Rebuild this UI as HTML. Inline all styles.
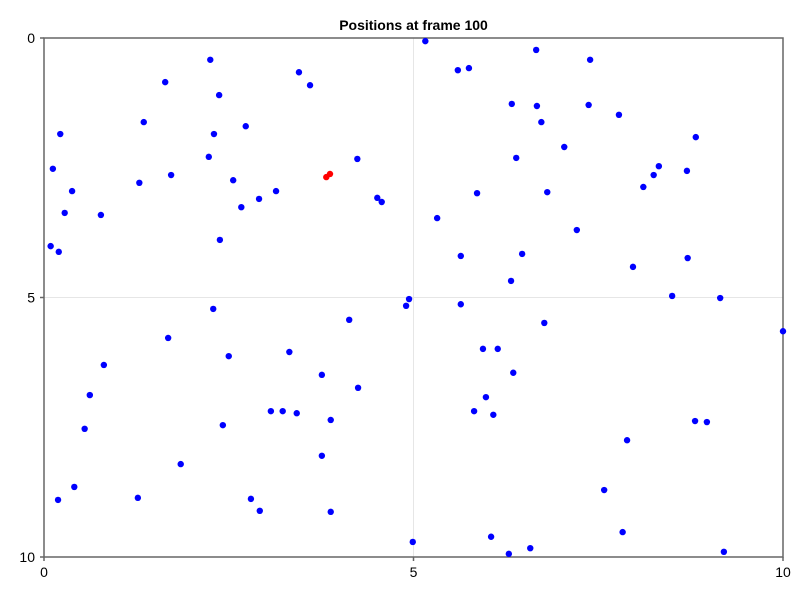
<!DOCTYPE html>
<html><head><meta charset="utf-8"><style>
body{margin:0;background:#fff;}
svg text{font-family:"Liberation Sans",sans-serif;}
</style></head><body>
<svg id="chart" width="800" height="600" xmlns="http://www.w3.org/2000/svg">
<rect width="800" height="600" fill="#fff"/>
<text x="413.5" y="30" text-anchor="middle" font-size="14" font-weight="bold" fill="#000">Positions at frame 100</text>
<g id="grid"></g>
<g id="axes"></g>
<g id="points"></g>
</svg>
<script>
const xTicks=[0,5,10];
const yTicks=[0,5,10];
const blueX=[5.16,6.66,2.25,7.39,5.60,5.75,3.45,1.64,3.60,2.37,6.33,6.67,7.37,7.78,1.35,2.73,6.73,0.22,2.30,8.82,7.04,2.23,4.24,6.39,8.32,0.12,1.72,8.25,8.70,2.56,1.29,8.11,0.38,3.14,5.86,6.81,2.91,4.51,4.57,2.67,0.28,0.77,5.32,7.21,2.38,0.09,0.20,5.64,6.47,8.71,7.97,6.32,8.50,9.15,4.94,4.90,5.64,2.29,4.13,6.77,10.0,1.68,5.94,6.14,3.32,2.50,0.81,6.35,3.76,4.25,0.62,5.98,3.07,3.23,3.42,5.82,6.08,8.81,8.97,3.88,2.42,0.55,7.89,3.76,1.85,0.41,7.58,1.27,0.19,2.80,2.92,3.88,7.83,6.05,4.99,6.58,6.29,9.20];
const blueY=[0.06,0.23,0.42,0.42,0.62,0.58,0.66,0.85,0.91,1.10,1.27,1.31,1.29,1.48,1.62,1.70,1.62,1.85,1.85,1.91,2.10,2.29,2.33,2.31,2.47,2.52,2.64,2.64,2.56,2.74,2.79,2.87,2.95,2.95,2.99,2.97,3.10,3.08,3.16,3.26,3.37,3.41,3.47,3.70,3.89,4.01,4.12,4.20,4.16,4.24,4.41,4.68,4.97,5.01,5.03,5.16,5.13,5.22,5.43,5.49,5.65,5.78,5.99,5.99,6.05,6.13,6.30,6.45,6.49,6.74,6.88,6.92,7.19,7.19,7.23,7.19,7.26,7.38,7.40,7.36,7.46,7.53,7.75,8.05,8.21,8.65,8.71,8.86,8.90,8.88,9.11,9.13,9.52,9.61,9.71,9.83,9.94,9.90];
const redX=[3.82,3.87];
const redY=[2.68,2.62];

const X0=44,X1=783,Y0=38,Y1=557;
const sx=v=>X0+(v-0)/10*(X1-X0);
const sy=v=>Y0+(v-0)/10*(Y1-Y0);
const NS="http://www.w3.org/2000/svg";
function mk(tag,parent,attrs){const e=document.createElementNS(NS,tag);for(const k in attrs)e.setAttribute(k,attrs[k]);parent.appendChild(e);return e;}
const grid=document.getElementById('grid'),axes=document.getElementById('axes'),pts=document.getElementById('points');
xTicks.forEach(t=>{if(t>0&&t<10){const l=mk('line',grid,{x1:sx(t),x2:sx(t),y1:Y0,y2:Y1,stroke:'#e6e6e6','stroke-width':1});

}});
yTicks.forEach(t=>{if(t>0&&t<10){const l=mk('line',grid,{x1:X0,x2:X1,y1:sy(t),y2:sy(t),stroke:'#e6e6e6','stroke-width':1});

}});
const frame=mk('rect',axes,{x:X0,y:Y0,width:X1-X0,height:Y1-Y0,fill:'none',stroke:'#666','stroke-width':1.5});


xTicks.forEach(t=>{mk('line',axes,{x1:sx(t),x2:sx(t),y1:Y1,y2:Y1+4,stroke:'#666','stroke-width':1.5});
const tx=mk('text',axes,{x:sx(t),y:Y1+20,'text-anchor':'middle','font-size':14,fill:'#000'});tx.textContent=t;

});
yTicks.forEach(t=>{mk('line',axes,{x1:X0-4,x2:X0,y1:sy(t),y2:sy(t),stroke:'#666','stroke-width':1.5});
const tx=mk('text',axes,{x:X0-9,y:sy(t)+5,'text-anchor':'end','font-size':14,fill:'#000'});tx.textContent=t;

});
blueX.forEach((v,i)=>{const c=mk('circle',pts,{cx:sx(v),cy:sy(blueY[i]),r:3.2,fill:'#0000ff'});

});
redX.forEach((v,i)=>{const c=mk('circle',pts,{cx:sx(v),cy:sy(redY[i]),r:3.2,fill:'#ff0000'});

});
</script>
</body></html>
